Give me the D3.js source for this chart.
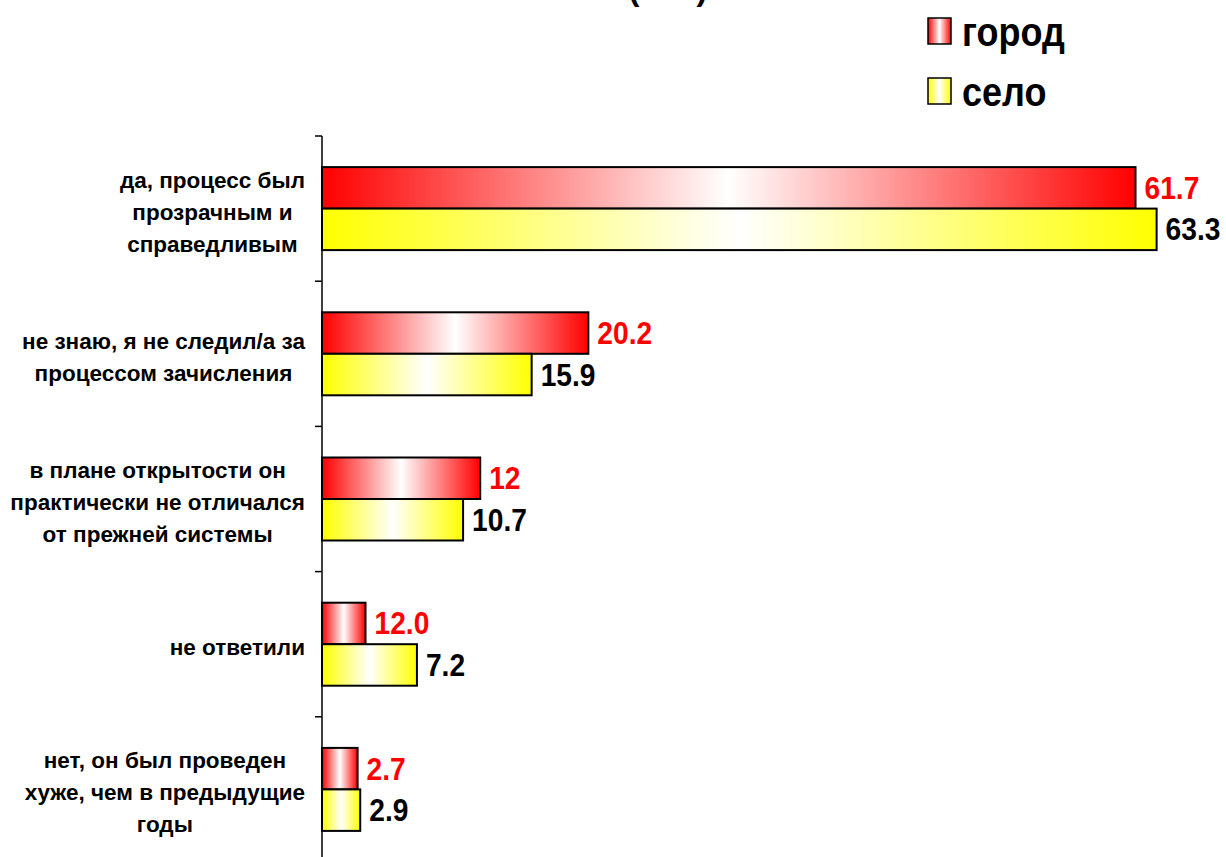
<!DOCTYPE html>
<html>
<head>
<meta charset="utf-8">
<script src="https://cdn.jsdelivr.net/npm/d3@7"></script>
<style>
  body { margin: 0; background: #fff; }
  text { font-family: "Liberation Sans", Arial, sans-serif; font-weight: bold; }
</style>
</head>
<body>
<script>
var width = 1226;
var height = 857;

var categories = [
  ["да, процесс был", "прозрачным и", "справедливым"],
  ["не знаю, я не следил/а за", "процессом зачисления"],
  ["в плане открытости он", "практически не отличался", "от прежней системы"],
  ["не ответили"],
  ["нет, он был проведен", "хуже, чем в предыдущие", "годы"]
];
var seriesNames = ["город", "село"];
var cityValues = [61.7, 20.2, 12, 3.3, 2.7];
var cityLabels = ["61.7", "20.2", "12", "12.0", "2.7"];
var villageValues = [63.3, 15.9, 10.7, 7.2, 2.9];
var villageLabels = ["63.3", "15.9", "10.7", "7.2", "2.9"];
var colors = ["#ff0000", "#ffff00"];
var labelColors = ["#ff0000", "#000000"];

var svg = d3.select("body")
  .append("svg")
  .attr("width", width)
  .attr("height", height);
var defs = svg.append("defs");

// color -> white -> color gradients
colors.forEach(function (c, i) {
  var g = defs.append("linearGradient")
    .attr("id", "grad" + i)
    .attr("x1", "0%").attr("x2", "100%")
    .attr("y1", "0%").attr("y2", "0%");
  g.append("stop").attr("offset", "0%").attr("stop-color", c);
  g.append("stop").attr("offset", "50%").attr("stop-color", "#ffffff");
  g.append("stop").attr("offset", "100%").attr("stop-color", c);
});

var x = d3.scaleLinear().domain([0, 10]).range([322, 322 + 131.85]);
var y = d3.scaleBand().domain(d3.range(categories.length)).range([136, 862]);
var inner = d3.scaleBand().domain([0, 1]).range([0, 83]);

// title remnant (clipped at the top)
svg.append("text")
  .attr("x", 668)
  .attr("y", 0)
  .attr("text-anchor", "middle")
  .attr("font-size", 32)
  .text("(в %)");

// axis
svg.append("line")
  .attr("x1", 322).attr("x2", 322)
  .attr("y1", 136).attr("y2", height)
  .attr("stroke", "#000").attr("stroke-width", 1.5);
svg.selectAll("line.tick")
  .data(d3.range(categories.length))
  .enter()
  .append("line")
  .classed("tick", true)
  .attr("x1", 315).attr("x2", 322)
  .attr("y1", function (d) { return y(d); })
  .attr("y2", function (d) { return y(d); })
  .attr("stroke", "#000").attr("stroke-width", 1.5);

// category labels: lines centered in a block right-aligned at x=305
var lineH = 32;
svg.selectAll("g.cat")
  .data(categories)
  .enter()
  .append("g")
  .classed("cat", true)
  .each(function (lines, i) {
    var g = d3.select(this);
    var cy = y(i) + y.bandwidth() / 2;
    var start = cy - (lines.length - 1) * lineH / 2 + 11;
    var texts = lines.map(function (l, j) {
      return g.append("text")
        .attr("y", start + j * lineH)
        .attr("text-anchor", "middle")
        .attr("font-size", 22.5)
        .attr("fill", "#000")
        .text(l);
    });
    var maxW = d3.max(texts, function (t) { return t.node().getComputedTextLength(); });
    texts.forEach(function (t) { t.attr("x", 305 - maxW / 2); });
  });

// bars
var series = [
  { values: cityValues, labels: cityLabels },
  { values: villageValues, labels: villageLabels }
];
series.forEach(function (s, si) {
  var g = svg.append("g");
  var top = function (i) { return y(i) + (y.bandwidth() - 83) / 2 + inner(si); };
  g.selectAll("rect")
    .data(s.values)
    .enter()
    .append("rect")
    .attr("x", x(0))
    .attr("y", function (d, i) { return top(i); })
    .attr("width", function (d) { return x(d) - x(0); })
    .attr("height", inner.bandwidth())
    .attr("fill", "url(#grad" + si + ")")
    .attr("stroke", "#000")
    .attr("stroke-width", 2);
  g.selectAll("text")
    .data(s.values)
    .enter()
    .append("text")
    .attr("transform", function (d, i) {
      return "translate(" + (x(d) + 9) + "," + (top(i) + inner.bandwidth() / 2 + 11) + ") scale(0.88,1)";
    })
    .attr("font-size", 32)
    .attr("fill", labelColors[si])
    .text(function (d, i) { return s.labels[i]; });
});

// legend
var legend = svg.selectAll("g.legend")
  .data(seriesNames)
  .enter()
  .append("g")
  .classed("legend", true)
  .attr("transform", function (d, i) { return "translate(928," + (18 + i * 60) + ")"; });
legend.append("rect")
  .attr("width", 23)
  .attr("height", 26)
  .attr("fill", function (d, i) { return "url(#grad" + i + ")"; })
  .attr("stroke", "#000")
  .attr("stroke-width", 1.5);
legend.append("text")
  .attr("transform", "translate(34,28) scale(0.9,1)")
  .attr("font-size", 40)
  .attr("fill", "#000")
  .text(function (d) { return d; });
</script>
</body>
</html>
